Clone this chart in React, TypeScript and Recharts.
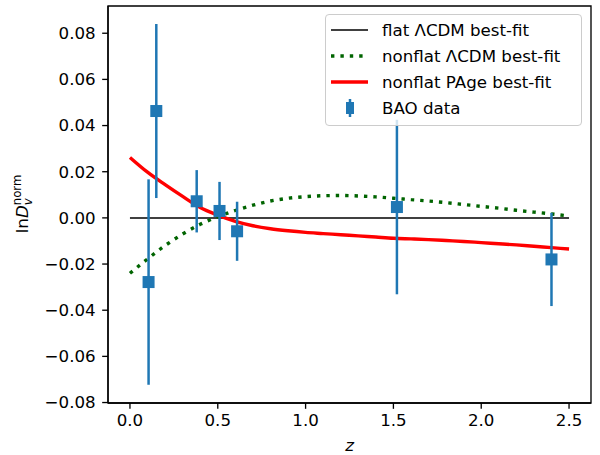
import React from "react";
import {
  ComposedChart,
  Line,
  Scatter,
  ErrorBar,
  XAxis,
  YAxis,
  Legend,
  ReferenceArea,
} from "recharts";

// model curves, sampled on a z grid
const zGrid = [
  0, 0.1, 0.2, 0.3, 0.4, 0.5, 0.6, 0.7, 0.8, 0.9, 1.0, 1.1, 1.2, 1.3, 1.4,
  1.5, 1.6, 1.7, 1.8, 1.9, 2.0, 2.1, 2.2, 2.3, 2.4, 2.5,
];
const nonflatLcdm = [
  -0.024, -0.0178, -0.012, -0.007, -0.0028, 0.0005, 0.0032, 0.0055, 0.0073,
  0.0085, 0.0092, 0.0096, 0.0097, 0.0095, 0.0091, 0.0085, 0.0079, 0.0073,
  0.0066, 0.0058, 0.005, 0.0042, 0.0033, 0.0025, 0.0017, 0.0008,
];
const nonflatPage = [
  0.0262, 0.0198, 0.0144, 0.0093, 0.0045, 0.0012, -0.0015, -0.0034, -0.0047,
  -0.0056, -0.0063, -0.0068, -0.0073, -0.0078, -0.0083, -0.0088, -0.0091,
  -0.0094, -0.0098, -0.0102, -0.0107, -0.0112, -0.0117, -0.0123, -0.0129,
  -0.0135,
];
const flatZ = [0, 2.5];
const flatLcdm = [0, 0];

// BAO measurements
const baoZ = [0.106, 0.15, 0.38, 0.51, 0.61, 1.52, 2.4];
const baoLnD = [-0.0278, 0.0463, 0.0072, 0.003, -0.0058, 0.0047, -0.018];
const baoErr = [0.0445, 0.0377, 0.0135, 0.0126, 0.0128, 0.0378, 0.0202];

const xTicks = [0, 0.5, 1.0, 1.5, 2.0, 2.5];
const yTicks = [-0.08, -0.06, -0.04, -0.02, 0, 0.02, 0.04, 0.06, 0.08];

const curveRows = zGrid.map((z, i) => ({
  z,
  lcdm: nonflatLcdm[i],
  page: nonflatPage[i],
}));
const flatRows = flatZ.map((z, i) => ({ z, flat: flatLcdm[i] }));
const baoRows = baoZ.map((z, i) => ({ z, lnD: baoLnD[i], err: baoErr[i] }));

const FONT = "DejaVu Sans";
const FS = 16.67;
const BLUE = "#1f77b4";
const X_DOMAIN = [-0.125, 2.625];
const Y_DOMAIN = [-0.0802, 0.0918];

const fmtY = (v: number) => v.toFixed(2).replace("-", "\u2212");
const fmtX = (v: number) => v.toFixed(1);

const Square = (props: any) => {
  const { cx, cy } = props;
  return <rect x={cx - 6} y={cy - 6} width={12} height={12} fill={BLUE} />;
};

const YLabel = () => (
  <text
    transform="translate(28,204) rotate(-90)"
    textAnchor="middle"
    fontFamily={FONT}
    fontSize={FS}
    fill="black"
  >
    <tspan>ln</tspan>
    <tspan fontStyle="italic">D</tspan>
    <tspan fontStyle="italic" fontSize={11.7} dy={4}>
      v
    </tspan>
    <tspan fontSize={11.7} dx={-6.9} dy={-11}>
      norm
    </tspan>
  </text>
);

const XLabel = (props: any) => {
  const vb = props.viewBox || {};
  return (
    <text
      x={vb.x + vb.width / 2}
      y={451}
      textAnchor="middle"
      fontFamily={FONT}
      fontSize={FS}
      fontStyle="italic"
      fill="black"
    >
      z
    </text>
  );
};

const legendItems = [
  { key: "flat", label: "flat \u039bCDM best-fit" },
  { key: "lcdm", label: "nonflat \u039bCDM best-fit" },
  { key: "page", label: "nonflat PAge best-fit" },
  { key: "bao", label: "BAO data" },
];

const LegendIcon = ({ kind }: { kind: string }) => (
  <svg width={37} height={26} style={{ display: "block" }}>
    {kind === "flat" && (
      <line x1={0} y1={13} x2={37} y2={13} stroke="black" strokeWidth={1.5} />
    )}
    {kind === "lcdm" && (
      <line
        x1={0}
        y1={13}
        x2={37}
        y2={13}
        stroke="#006400"
        strokeWidth={3.4}
        strokeDasharray="3.4 6"
      />
    )}
    {kind === "page" && (
      <line x1={0} y1={13} x2={37} y2={13} stroke="red" strokeWidth={3.4} />
    )}
    {kind === "bao" && (
      <g>
        <line x1={19} y1={4} x2={19} y2={22} stroke={BLUE} strokeWidth={2.5} />
        <rect x={15} y={7} width={8} height={12} fill={BLUE} />
      </g>
    )}
  </svg>
);

const renderLegend = () => (
  <div
    style={{
      border: "1px solid #cccccc",
      borderRadius: 4,
      background: "rgba(255,255,255,0.8)",
      padding: "2px 8px 4px 5px",
      fontFamily: FONT,
      fontSize: FS,
      color: "black",
      boxSizing: "border-box",
      width: 257,
    }}
  >
    {legendItems.map((it) => (
      <div
        key={it.key}
        style={{ display: "flex", alignItems: "center", height: 26 }}
      >
        <LegendIcon kind={it.key} />
        <span style={{ marginLeft: 14, whiteSpace: "nowrap" }}>{it.label}</span>
      </div>
    ))}
  </div>
);

export default function App() {
  return (
    <div style={{ position: "absolute", left: 0, top: 0, width: 600, height: 455 }}>
      <ComposedChart
        width={600}
        height={455}
        margin={{ top: 6, right: 9, bottom: 0, left: 0 }}
      >
        <XAxis
          dataKey="z"
          type="number"
          domain={X_DOMAIN}
          ticks={xTicks}
          tickFormatter={fmtX}
          allowDataOverflow
          height={52}
          tickSize={5.83}
          tickMargin={5}
          axisLine={{ stroke: "black", strokeWidth: 1.33 }}
          tickLine={{ stroke: "black", strokeWidth: 1.33 }}
          tick={{ fill: "black", fontSize: FS, fontFamily: FONT }}
          label={<XLabel />}
        />
        <YAxis
          type="number"
          domain={Y_DOMAIN}
          ticks={yTicks}
          tickFormatter={fmtY}
          allowDataOverflow
          width={108}
          tickSize={5.83}
          tickMargin={6.5}
          axisLine={{ stroke: "black", strokeWidth: 1.33 }}
          tickLine={{ stroke: "black", strokeWidth: 1.33 }}
          tick={{ fill: "black", fontSize: FS, fontFamily: FONT }}
          label={<YLabel />}
        />
        <ReferenceArea
          x1={X_DOMAIN[0]}
          x2={X_DOMAIN[1]}
          y1={Y_DOMAIN[0]}
          y2={Y_DOMAIN[1]}
          fill="none"
          fillOpacity={0}
          stroke="black"
          strokeWidth={1.33}
          strokeOpacity={1}
        />
        <Line
          data={flatRows}
          dataKey="flat"
          stroke="black"
          strokeWidth={1.5}
          dot={false}
          activeDot={false}
          isAnimationActive={false}
        />
        <Line
          data={curveRows}
          dataKey="lcdm"
          type="monotone"
          stroke="#006400"
          strokeWidth={3.4}
          strokeDasharray="3.4 6"
          dot={false}
          activeDot={false}
          isAnimationActive={false}
        />
        <Line
          data={curveRows}
          dataKey="page"
          type="monotone"
          stroke="red"
          strokeWidth={3.4}
          dot={false}
          activeDot={false}
          isAnimationActive={false}
        />
        <Scatter
          data={baoRows}
          dataKey="lnD"
          fill={BLUE}
          shape={<Square />}
          isAnimationActive={false}
        >
          <ErrorBar
            dataKey="err"
            direction="y"
            width={0}
            stroke={BLUE}
            strokeWidth={2.5}
          />
        </Scatter>
        <Legend
          layout="horizontal"
          verticalAlign="middle"
          align="center"
          content={renderLegend}
          wrapperStyle={{ position: "absolute", left: 325, top: 14, width: 257 }}
        />
      </ComposedChart>
    </div>
  );
}
